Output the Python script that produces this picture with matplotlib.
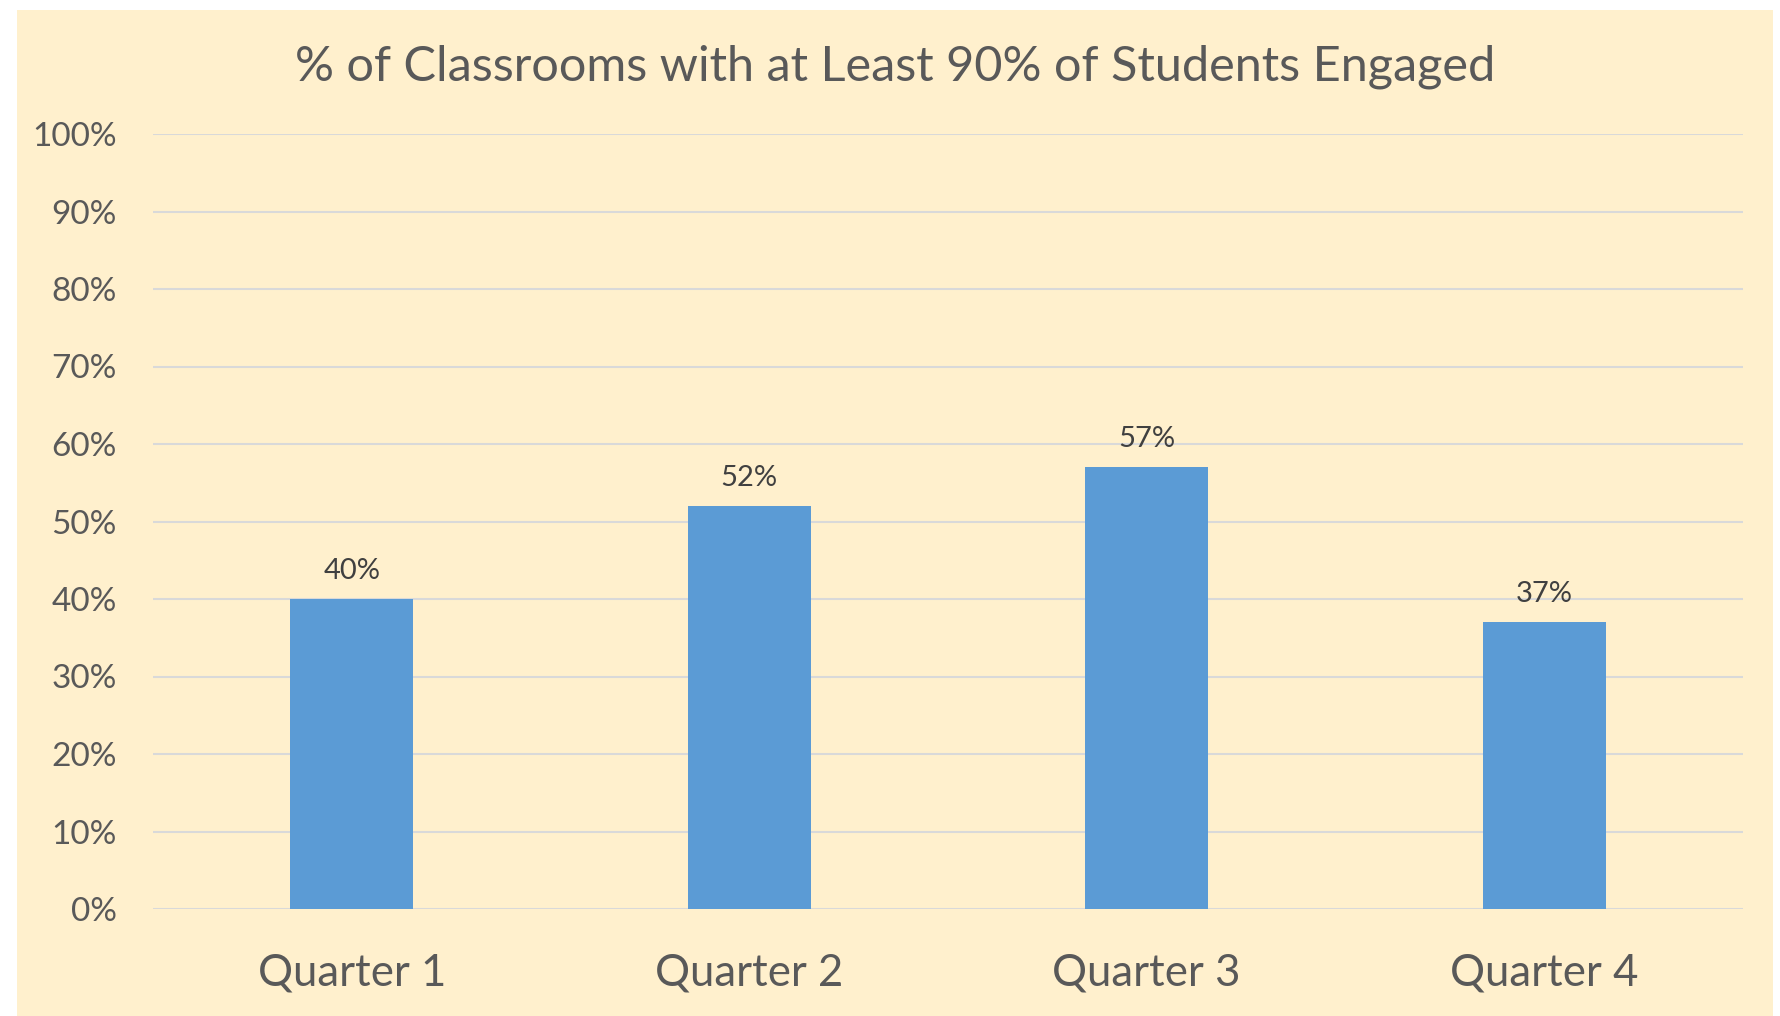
import matplotlib.pyplot as plt
from matplotlib.patches import Rectangle
from matplotlib.ticker import PercentFormatter

quarters = ["Quarter 1", "Quarter 2", "Quarter 3", "Quarter 4"]
engaged = [0.40, 0.52, 0.57, 0.37]
title = "% of Classrooms with at Least 90% of Students Engaged"

plt.rcParams['font.family'] = ['Lato', 'DejaVu Sans']

fig = plt.figure(figsize=(17.8, 10.16), dpi=100, facecolor="white")
# pale yellow chart panel, slightly inset from the image edge
fig.patches.append(Rectangle((17 / 1780, 0), (1773 - 17) / 1780, 1 - 10 / 1016,
                             transform=fig.transFigure, facecolor="#FFF0CD",
                             edgecolor="none", zorder=-5))

ax = fig.add_axes([153 / 1780, 1 - 909 / 1016, (1743 - 153) / 1780, (909 - 134) / 1016])
ax.set_facecolor("none")

x = range(len(quarters))
bars = ax.bar(x, engaged, width=0.31, color="#5B9BD5", zorder=3)

for b, v in zip(bars, engaged):
    ax.annotate(f"{v:.0%}", (b.get_x() + b.get_width() / 2, v),
                xytext=(0, 11), textcoords="offset points",
                ha="center", va="bottom", fontsize=21, color="#404040")

ax.set_xlim(-0.5, len(quarters) - 0.5)
ax.set_ylim(0, 1)
ax.set_yticks([i / 10 for i in range(11)])
ax.yaxis.set_major_formatter(PercentFormatter(1.0, decimals=0))
ax.set_xticks(list(x))
ax.set_xticklabels(quarters)

ax.grid(axis="y", color="#D9D9D9", linewidth=1.5, zorder=0)
for s in ax.spines.values():
    s.set_visible(False)
ax.tick_params(axis="y", length=0, pad=26, labelsize=24, labelcolor="#595959")
ax.tick_params(axis="x", length=0, pad=31, labelsize=31.5, labelcolor="#595959")

fig.text(895 / 1780, 1 - 67 / 1016, title, ha="center", va="center",
         fontsize=35, color="#595959")

fig.savefig("out.png", dpi=100, facecolor=fig.get_facecolor())
